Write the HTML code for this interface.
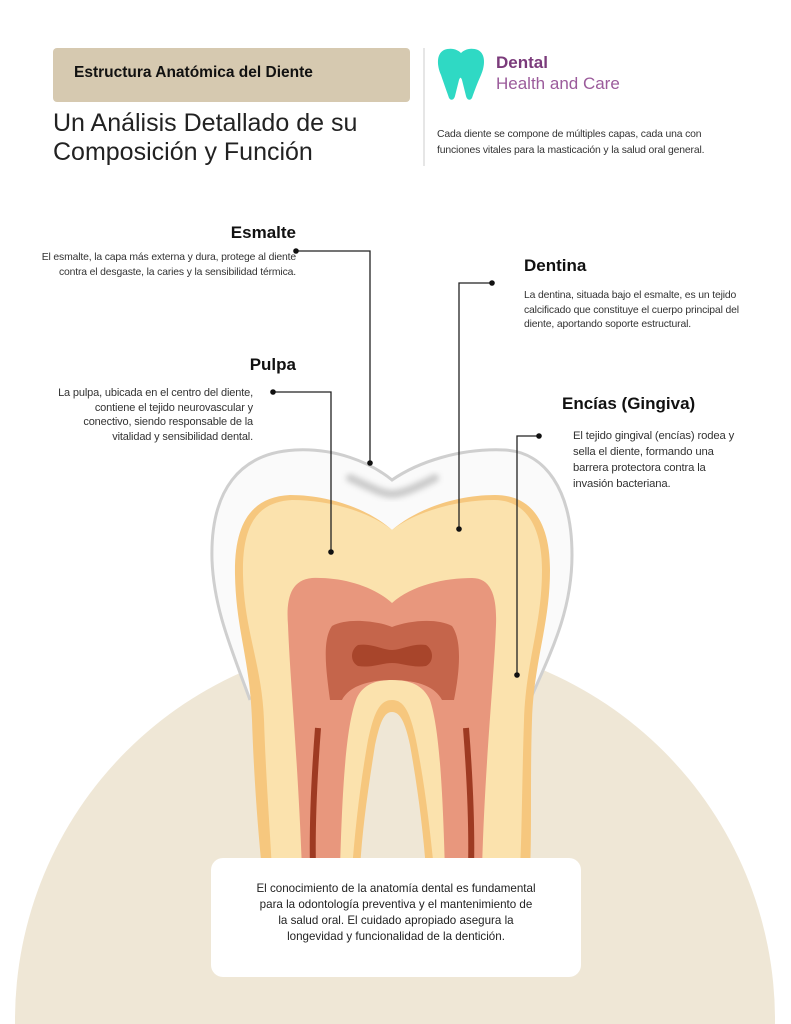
<!DOCTYPE html>
<html><head><meta charset="utf-8"><style>
*{margin:0;padding:0;box-sizing:border-box}
html,body{width:791px;height:1024px;overflow:hidden}
body{position:relative;background:#fff;font-family:"Liberation Sans",sans-serif;color:#222}
.a{position:absolute;white-space:nowrap}
.s{font-size:10.4px;line-height:15px;color:#333;letter-spacing:-0.15px}
.h{font-weight:bold;font-size:17px;color:#111}
</style></head><body>
<svg class="a" style="left:0;top:0" width="791" height="1024">
<defs><filter id="b" x="-20%" y="-50%" width="140%" height="200%"><feGaussianBlur stdDeviation="3"/></filter></defs>
<circle cx="395" cy="1020" r="380" fill="#efe7d6"/>
<!-- enamel -->
<path d="M392,480 C370,462 335,448 295,450 C240,453 210,490 212,560 C214,610 232,650 250,700 L530,700 C552,650 572,610 572,555 C572,490 545,452 505,450 C460,448 418,462 392,480 Z" fill="#fafafa"/>
<path d="M250,700 C232,650 214,610 212,560 C210,490 240,453 295,450 C335,448 370,462 392,480 C418,462 460,448 505,450 C545,452 572,490 572,555 C572,610 552,650 530,700" fill="none" stroke="#cfcfcf" stroke-width="3"/>
<path d="M350,478 C372,488 382,494 392,494 C402,494 415,488 435,478" stroke="#a9a9a9" stroke-width="8" fill="none" stroke-linecap="round" opacity=".6" filter="url(#b)"/>
<!-- dentin/root outer -->
<path d="M392,530 C370,510 330,495 290,495 C250,497 234,525 235,575 C236,630 250,660 252,720 C254,780 258,830 262,870 L530,870 C532,830 530,780 532,720 C534,660 550,625 550,570 C550,520 530,495 495,495 C455,495 415,510 392,530 Z" fill="#f6c77e"/>
<path d="M392,530 C370,512 330,500 292,500 C255,502 242,528 243,575 C244,630 262,665 264,720 C266,780 270,830 272,870 L520,870 C522,830 522,780 524,720 C526,660 542,625 542,570 C542,525 525,500 494,500 C456,500 415,512 392,530 Z" fill="#fbe2ad"/>
<!-- pulp -->
<path d="M392,603 C372,585 340,577 312,578 C290,580 286,600 288,625 C290,680 298,760 302,870 L340,870 C342,800 345,730 356,700 C362,685 375,680 392,680 C410,680 423,685 430,700 C440,730 443,800 445,870 L482,870 C485,760 494,680 496,625 C497,598 492,578 472,578 C445,578 412,585 392,603 Z" fill="#e8977d"/>
<path d="M392,627 C375,620 345,618 332,626 C322,640 326,670 330,700 L342,700 C348,688 365,680 392,680 C420,680 436,688 442,700 L454,700 C460,670 462,640 452,626 C438,618 410,620 392,627 Z" fill="#c5654b"/>
<path d="M358,645 C372,643 382,650 392,650 C402,650 412,643 426,645 C434,650 434,662 426,666 C412,668 402,663 392,663 C382,663 372,668 358,666 C350,662 350,650 358,645 Z" fill="#a8452b"/>
<path d="M318,728 C314,780 312,830 313,870" stroke="#9e3a22" stroke-width="6" fill="none"/>
<path d="M466,728 C470,780 472,830 471,870" stroke="#9e3a22" stroke-width="6" fill="none"/>
<!-- root gap -->
<path d="M392,688 C370,688 360,700 354,730 C348,780 345,830 343,870 L442,870 C440,830 437,780 431,730 C425,700 414,688 392,688 Z" fill="#fbe2ad"/>
<path d="M392,700 C380,700 374,712 368,740 C360,785 355,830 352,870 L434,870 C430,830 425,785 416,740 C410,712 404,700 392,700 Z" fill="#f6c77e"/>
<path d="M392,712 C384,712 380,722 375,745 C368,790 362,830 360,870 L426,870 C423,830 418,790 410,745 C405,722 400,712 392,712 Z" fill="#efe7d6"/>
<!-- connectors -->
<g stroke="#222" stroke-width="1.3" fill="none">
<path d="M296,251 H370 V463"/><path d="M492,283 H459 V529"/><path d="M273,392 H331 V552"/><path d="M539,436 H517 V675"/>
</g>
<g fill="#111">
<circle cx="296" cy="251" r="2.8"/><circle cx="370" cy="463" r="2.8"/><circle cx="492" cy="283" r="2.8"/><circle cx="459" cy="529" r="2.8"/><circle cx="273" cy="392" r="2.8"/><circle cx="331" cy="552" r="2.8"/><circle cx="539" cy="436" r="2.8"/><circle cx="517" cy="675" r="2.8"/>
</g>
<!-- logo -->
<path d="M444,50 C452,47 458,50 461,53 C464,50 470,47 478,50 C486,54 485,66 481,75 C477,84 474,92 472,98 C470,101 467,100 466,96 L462,80 C461,77 460,77 459,80 L455,96 C454,100 451,101 449,98 C447,92 444,84 441,75 C437,66 436,54 444,50 Z" fill="#2fd9c4"/>
<line x1="424" y1="48" x2="424" y2="166" stroke="#ddd" stroke-width="1.5"/>
</svg>
<div class="a" style="left:53px;top:48px;width:357px;height:54px;background:#d6c9b0;border-radius:4px"></div>
<div class="a" style="left:74px;top:64px;font-size:15.5px;font-weight:bold;color:#111">Estructura Anatómica del Diente</div>
<div class="a" style="left:53px;top:109px;font-size:25px;line-height:29px;color:#222">Un Análisis Detallado de su<br>Composición y Función</div>
<div class="a" style="left:496px;top:53px;font-size:17px;font-weight:bold;color:#7b3b7b">Dental</div>
<div class="a" style="left:496px;top:74px;font-size:17px;color:#9b5b9b">Health and Care</div>
<div class="a s" style="left:437px;top:127px;line-height:16px">Cada diente se compone de múltiples capas, cada una con<br>funciones vitales para la masticación y la salud oral general.</div>

<div class="a h" style="right:495px;top:223px">Esmalte</div>
<div class="a s" style="right:495px;top:250px;text-align:right">El esmalte, la capa más externa y dura, protege al diente<br>contra el desgaste, la caries y la sensibilidad térmica.</div>
<div class="a h" style="left:524px;top:256px">Dentina</div>
<div class="a s" style="left:524px;top:289px;line-height:14.5px">La dentina, situada bajo el esmalte, es un tejido<br>calcificado que constituye el cuerpo principal del<br>diente, aportando soporte estructural.</div>
<div class="a h" style="right:495px;top:355px">Pulpa</div>
<div class="a s" style="right:538px;top:386px;text-align:right;font-size:11px;line-height:14.7px">La pulpa, ubicada en el centro del diente,<br>contiene el tejido neurovascular y<br>conectivo, siendo responsable de la<br>vitalidad y sensibilidad dental.</div>
<div class="a h" style="left:562px;top:394px">Encías (Gingiva)</div>
<div class="a s" style="left:573px;top:428px;font-size:11.3px;line-height:16px">El tejido gingival (encías) rodea y<br>sella el diente, formando una<br>barrera protectora contra la<br>invasión bacteriana.</div>

<div class="a" style="left:211px;top:858px;width:370px;height:119px;background:#fff;border-radius:12px"></div>
<div class="a" style="left:211px;top:881px;width:370px;text-align:center;font-size:11.6px;line-height:16px;color:#222;white-space:normal">El conocimiento de la anatomía dental es fundamental<br>para la odontología preventiva y el mantenimiento de<br>la salud oral. El cuidado apropiado asegura la<br>longevidad y funcionalidad de la dentición.</div>
</body></html>
